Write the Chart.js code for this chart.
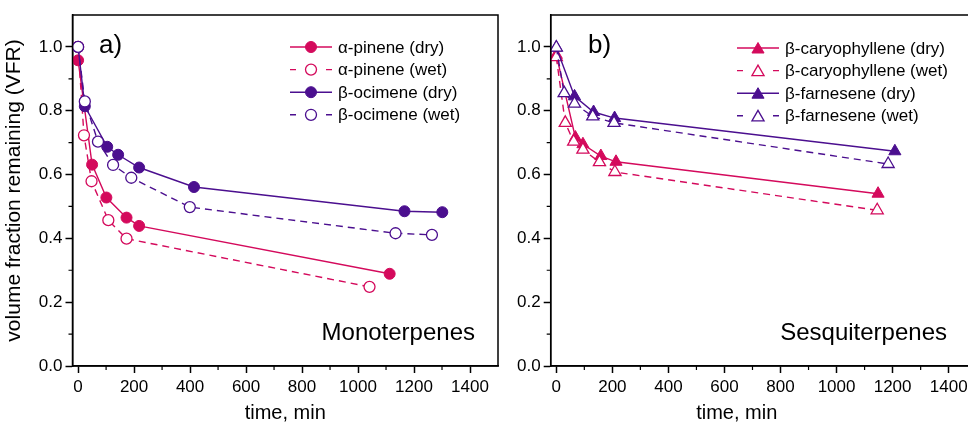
<!DOCTYPE html>
<html>
<head>
<meta charset="utf-8">
<script src="https://cdn.jsdelivr.net/npm/chart.js@4/dist/chart.umd.min.js"></script>
<style>
  html, body { margin: 0; padding: 0; background: #fff; overflow: hidden; }
  #wrap { position: relative; width: 968px; height: 429px; overflow: hidden; }
  canvas { position: absolute; top: 0; }
  #left { left: 0; }
  #right { left: 505px; }
</style>
</head>
<body>
<div id="wrap">
  <canvas id="left" width="505" height="429"></canvas>
  <canvas id="right" width="480" height="429"></canvas>
</div>
<script>
// ---- data ----
// a) monoterpenes
const pineneDryT = [0, 50, 101, 173, 218, 1113];
const pineneDryV = [0.958, 0.631, 0.528, 0.465, 0.439, 0.289];
const pineneWetT = [0, 21, 48, 108, 173, 1041];
const pineneWetV = [1.0, 0.723, 0.579, 0.457, 0.399, 0.248];
const ocimeneDryT = [0, 24, 104, 143, 218, 414, 1166, 1301];
const ocimeneDryV = [1.0, 0.814, 0.687, 0.662, 0.622, 0.561, 0.485, 0.482];
const ocimeneWetT = [0, 24, 71, 125, 190, 399, 1134, 1264];
const ocimeneWetV = [1.0, 0.829, 0.703, 0.630, 0.590, 0.498, 0.416, 0.411];

// b) sesquiterpenes
const caryDryT = [0, 68, 95, 159, 213, 1148];
const caryDryV = [0.975, 0.716, 0.695, 0.658, 0.640, 0.540];
const caryWetT = [0, 32, 62, 95, 154, 209, 1145];
const caryWetV = [0.968, 0.762, 0.703, 0.678, 0.639, 0.608, 0.488];
const farnDryT = [0, 65, 133, 208, 1208];
const farnDryV = [0.998, 0.845, 0.796, 0.777, 0.673];
const farnWetT = [0, 28, 65, 130, 206, 1184];
const farnWetV = [0.998, 0.855, 0.822, 0.782, 0.762, 0.633];

const xTicks = [0, 200, 400, 600, 800, 1000, 1200, 1400];
const yTicks = [0.0, 0.2, 0.4, 0.6, 0.8, 1.0];

const PINK = '#d40a5c';
const PURPLE = '#4b0f8f';
const FONT = "'Liberation Sans', Arial, sans-serif";

function pts(t, v) {
    return t.map((x, i) => ({ x: x, y: v[i] }));
}

// idx: position in the legend, later ones are drawn on top
function series(label, t, v, color, wet, style, idx) {
    const tri = style === 'triangle';
    return {
        label: label,
        data: pts(t, v),
        order: 10 - idx,
        borderColor: color,
        backgroundColor: wet ? '#fff' : color,
        pointBackgroundColor: wet ? '#fff' : color,
        pointBorderColor: color,
        pointStyle: style,
        pointRadius: tri ? 7 : 5.5,
        pointBorderWidth: wet ? 1.3 : 1,
        borderWidth: 1.4,
        borderDash: wet ? [7, 5] : [],
        tension: 0,
        fill: false
    };
}

// frame round the plot + minor ticks
const framePlugin = {
    id: 'frame',
    afterDraw(chart) {
        const { ctx, chartArea: a, scales } = chart;
        const x = scales.x, y = scales.y;
        ctx.save();
        ctx.strokeStyle = '#000';
        ctx.lineWidth = 1.5;
        ctx.strokeRect(a.left, a.top, a.right - a.left, a.bottom - a.top);
        ctx.lineWidth = 1.2;
        ctx.beginPath();
        for (let i = 1; i * 100 < x.max; i += 2) {
            const px = x.getPixelForValue(i * 100);
            ctx.moveTo(px, a.bottom);
            ctx.lineTo(px, a.bottom + 4);
        }
        for (let i = 1; i < 11; i += 2) {
            const py = y.getPixelForValue(i / 10);
            ctx.moveTo(a.left, py);
            ctx.lineTo(a.left - 4, py);
        }
        ctx.stroke();
        ctx.restore();
    }
};

function marker(ctx, style, r, cx, cy) {
    ctx.beginPath();
    if (style === 'triangle') {
        for (let k = 0; k < 3; k++) {
            const ang = k * 2 * Math.PI / 3;
            const px = cx + Math.sin(ang) * r, py = cy - Math.cos(ang) * r;
            if (k === 0) ctx.moveTo(px, py); else ctx.lineTo(px, py);
        }
        ctx.closePath();
    } else {
        ctx.arc(cx, cy, r, 0, Math.PI * 2);
    }
    ctx.fill();
    ctx.stroke();
}

// panel letter, group name, x title and legend
const textPlugin = {
    id: 'panelText',
    afterDraw(chart, args, o) {
        const { ctx, chartArea: a } = chart;
        ctx.save();
        ctx.fillStyle = '#000';
        ctx.textBaseline = 'middle';
        ctx.font = '26px ' + FONT;
        ctx.textAlign = 'left';
        ctx.fillText(o.letter, o.letterX, 46);
        ctx.font = '24px ' + FONT;
        ctx.textAlign = 'right';
        ctx.fillText(o.name, o.nameRight, 333);
        ctx.font = '20px ' + FONT;
        ctx.textAlign = 'center';
        ctx.fillText('time, min', (a.left + a.right) / 2 + o.titleShift, 413);

        // legend
        ctx.font = '17px ' + FONT;
        ctx.textAlign = 'left';
        chart.data.datasets.forEach((ds, i) => {
            const ly = o.legendY + i * 22.6;
            const lx = o.legendX;
            ctx.strokeStyle = ds.borderColor;
            ctx.lineWidth = ds.borderWidth;
            ctx.beginPath();
            if (ds.borderDash.length) {
                ctx.moveTo(lx, ly); ctx.lineTo(lx + 6, ly);
                ctx.moveTo(lx + 36, ly); ctx.lineTo(lx + 42, ly);
            } else {
                ctx.moveTo(lx, ly); ctx.lineTo(lx + 42, ly);
            }
            ctx.stroke();
            ctx.fillStyle = ds.pointBackgroundColor;
            ctx.lineWidth = ds.pointBorderWidth;
            marker(ctx, ds.pointStyle, ds.pointRadius, lx + 21, ly + (ds.pointStyle === 'triangle' ? 1.5 : 0));
            ctx.fillStyle = '#000';
            ctx.fillText(ds.label, lx + 48, ly + 1);
        });
        ctx.restore();
    }
};

function makeOptions(areaLeft, padRight, showTitle, textOpts) {
    return {
        responsive: false,
        animation: false,
        devicePixelRatio: 1,
        layout: { padding: { top: 15, right: padRight, left: 0, bottom: 0 } },
        plugins: {
            legend: { display: false },
            tooltip: { enabled: false },
            panelText: textOpts
        },
        scales: {
            x: {
                type: 'linear',
                min: -20,
                max: 1500,
                afterFit: (s) => { s.height = 63; },
                afterBuildTicks: (s) => { s.ticks = xTicks.map(v => ({ value: v })); },
                ticks: {
                    includeBounds: false,
                    autoSkip: false,
                    maxRotation: 0,
                    padding: 4,
                    color: '#000',
                    font: { family: FONT, size: 17 },
                    callback: (v) => String(v)
                },
                grid: { drawOnChartArea: false, tickLength: 7, tickWidth: 1.5, tickColor: '#000' },
                border: { display: true, color: '#000', width: 1.5 }
            },
            y: {
                type: 'linear',
                min: 0,
                max: 1.1,
                afterFit: (s) => { s.width = areaLeft; },
                afterBuildTicks: (s) => { s.ticks = yTicks.map(v => ({ value: v })); },
                ticks: {
                    includeBounds: false,
                    padding: 3,
                    color: '#000',
                    font: { family: FONT, size: 17 },
                    callback: (v) => Number(v).toFixed(1)
                },
                grid: { drawOnChartArea: false, tickLength: 7, tickWidth: 1.5, tickColor: '#000' },
                border: { display: true, color: '#000', width: 1.5 },
                title: {
                    display: showTitle,
                    text: 'volume fraction remaining (VFR)',
                    color: '#000',
                    font: { family: FONT, size: 21, lineHeight: 1.2 },
                    padding: { top: 2, bottom: 0 }
                }
            }
        }
    };
}

new Chart(document.getElementById('left').getContext('2d'), {
    type: 'line',
    data: {
        datasets: [
            series('α-pinene (dry)', pineneDryT, pineneDryV, PINK, false, 'circle', 0),
            series('α-pinene (wet)', pineneWetT, pineneWetV, PINK, true, 'circle', 1),
            series('β-ocimene (dry)', ocimeneDryT, ocimeneDryV, PURPLE, false, 'circle', 2),
            series('β-ocimene (wet)', ocimeneWetT, ocimeneWetV, PURPLE, true, 'circle', 3)
        ]
    },
    options: makeOptions(72.5, 7, true, {
        letter: 'a)', letterX: 99, name: 'Monoterpenes', nameRight: 475,
        titleShift: 0, legendX: 290, legendY: 47
    }),
    plugins: [framePlugin, textPlugin]
});

new Chart(document.getElementById('right').getContext('2d'), {
    type: 'line',
    data: {
        datasets: [
            series('β-caryophyllene (dry)', caryDryT, caryDryV, PINK, false, 'triangle', 0),
            series('β-caryophyllene (wet)', caryWetT, caryWetV, PINK, true, 'triangle', 1),
            series('β-farnesene (dry)', farnDryT, farnDryV, PURPLE, false, 'triangle', 2),
            series('β-farnesene (wet)', farnWetT, farnWetV, PURPLE, true, 'triangle', 3)
        ]
    },
    options: makeOptions(45.7, 8.3, false, {
        letter: 'b)', letterX: 83, name: 'Sesquiterpenes', nameRight: 442,
        titleShift: -27, legendX: 232, legendY: 48
    }),
    plugins: [framePlugin, textPlugin]
});
</script>
</body>
</html>
